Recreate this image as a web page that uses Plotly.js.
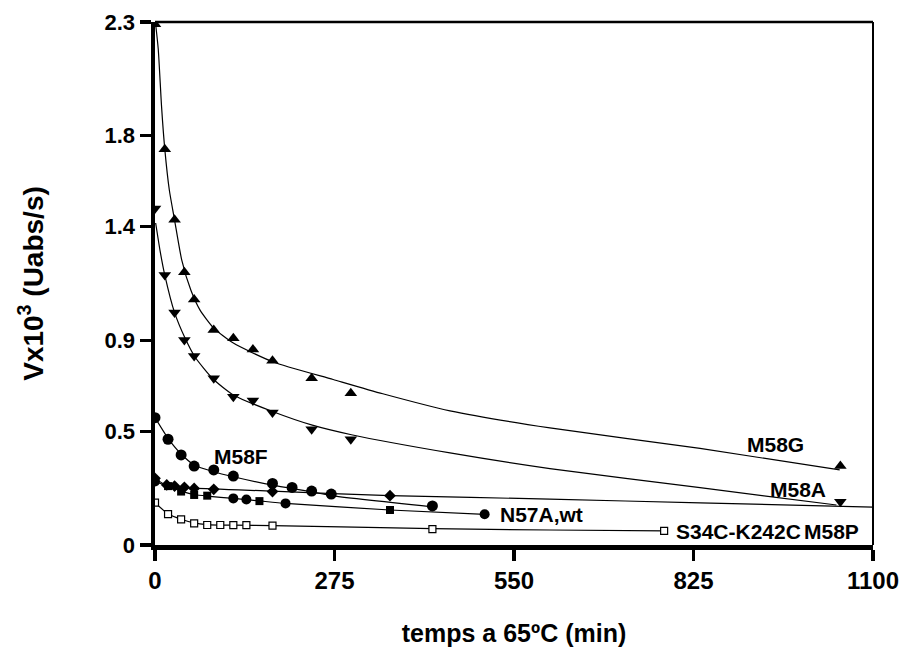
<!DOCTYPE html>
<html>
<head>
<meta charset="utf-8">
<script src="https://cdn.plot.ly/plotly-3.0.1.min.js"></script>
<style>html,body{margin:0;padding:0;background:#fff;}#chart{width:901px;height:652px;}</style>
</head>
<body>
<div id="chart"></div>
<script>
// ---- measured points (time in min, V x 10^3 in Uabs/s) ----
const m58gT = [0, 15, 30, 45, 60, 90, 120, 150, 180, 240, 300, 1050];
const m58gV = [2.29, 1.74, 1.43, 1.20, 1.08, 0.945, 0.909, 0.86, 0.81, 0.733, 0.667, 0.347];

const m58aT = [0, 15, 30, 45, 60, 90, 120, 150, 180, 240, 300, 1050];
const m58aV = [1.48, 1.187, 1.022, 0.901, 0.831, 0.733, 0.652, 0.635, 0.583, 0.509, 0.465, 0.19];

const m58fT = [0, 20, 40, 60, 90, 120, 180, 210, 240, 270, 425];
const m58fV = [0.56, 0.465, 0.396, 0.347, 0.33, 0.303, 0.271, 0.253, 0.237, 0.224, 0.172];

const wtT = [0, 18, 30, 45, 60, 90, 180, 360];
const wtV = [0.293, 0.264, 0.259, 0.254, 0.249, 0.245, 0.235, 0.217];

const n57aSqT = [20, 40, 60, 80, 160, 360];
const n57aSqV = [0.259, 0.235, 0.220, 0.217, 0.193, 0.154];
const n57aCiT = [0, 120, 140, 200, 505];
const n57aCiV = [0.279, 0.205, 0.200, 0.183, 0.135];

const s34cT = [0, 20, 40, 60, 80, 100, 120, 140, 180, 425, 780];
const s34cV = [0.186, 0.136, 0.113, 0.095, 0.088, 0.088, 0.087, 0.087, 0.085, 0.070, 0.062];

// ---- fitted curves ----
const m58gFitT = [1, 5, 10, 15, 22, 30, 41, 55, 69, 90, 120, 181, 273, 349, 452, 605, 835, 1049];
const m58gFitV = [2.29, 2.18, 1.93, 1.741, 1.56, 1.429, 1.253, 1.12, 1.033, 0.954, 0.888, 0.805, 0.728, 0.665, 0.59, 0.515, 0.425, 0.33];

const m58aFitT = [1, 8, 15, 30, 46, 61, 89, 120, 181, 241, 301, 452, 605, 835, 1044];
const m58aFitV = [1.416, 1.29, 1.187, 1.022, 0.91, 0.828, 0.73, 0.66, 0.586, 0.527, 0.485, 0.405, 0.336, 0.252, 0.176];

const m58fFitT = [0, 20, 40, 60, 90, 120, 180, 240, 270, 425];
const m58fFitV = [0.56, 0.469, 0.40, 0.352, 0.322, 0.30, 0.263, 0.234, 0.217, 0.168];

const wtFitT = [0, 18, 60, 180, 360, 605, 835, 1100];
const wtFitV = [0.293, 0.262, 0.25, 0.237, 0.217, 0.202, 0.185, 0.167];

const n57aFitT = [0, 20, 40, 60, 80, 120, 160, 200, 360, 505];
const n57aFitV = [0.279, 0.259, 0.237, 0.222, 0.215, 0.205, 0.194, 0.183, 0.154, 0.135];

const s34cFitT = [0, 20, 40, 60, 80, 120, 180, 425, 605, 780];
const s34cFitV = [0.186, 0.137, 0.113, 0.097, 0.09, 0.087, 0.085, 0.072, 0.066, 0.062];

// ---- axis ticks ----
const xTicks = [0, 275, 550, 825, 1100];
const xTickText = ['0', '275', '550', '825', '1100'];
const yTicks = [0, 0.5, 0.9, 1.4, 1.8, 2.3];
const yTickText = ['0', '0.5', '0.9', '1.4', '1.8', '2.3'];

// ---- labels ----
const labelText = ['M58G', 'M58A', 'M58F', 'N57A,wt', 'S34C-K242C', 'M58P'];
const labelT = [951, 985, 131, 525, 795, 991];
const labelV = [0.44, 0.242, 0.388, 0.132, 0.058, 0.058];
const labelAnchor = ['center', 'center', 'center', 'left', 'left', 'left'];

const FONT = 'Liberation Sans, Arial, sans-serif';
const fitLine = {color: '#000', width: 1.2, shape: 'spline', smoothing: 0.6};

function fit(t, v) {
  return {x: t, y: v, type: 'scatter', mode: 'lines', line: fitLine, hoverinfo: 'skip', showlegend: false};
}
function pts(t, v, symbol, size, name, open) {
  return {x: t, y: v, type: 'scatter', mode: 'markers', name: name, showlegend: false,
    marker: {symbol: symbol, size: size, color: open ? '#fff' : '#000', line: {color: '#000', width: open ? 1.2 : 0}}};
}

const data = [
  fit(m58gFitT, m58gFitV), fit(m58aFitT, m58aFitV), fit(m58fFitT, m58fFitV),
  fit(wtFitT, wtFitV), fit(n57aFitT, n57aFitV), fit(s34cFitT, s34cFitV),
  pts(m58gT, m58gV, 'triangle-up', 11, 'M58G'),
  pts(m58aT, m58aV, 'triangle-down', 11, 'M58A'),
  pts(m58fT, m58fV, 'circle', 11, 'M58F'),
  pts(wtT, wtV, 'diamond', 9, 'wt'),
  pts(n57aSqT, n57aSqV, 'square', 8, 'N57A'),
  pts(n57aCiT, n57aCiV, 'circle', 10, 'N57A'),
  pts(s34cT, s34cV, 'square', 7, 'S34C-K242C', true)
];

const annotations = labelText.map((t, i) => ({
  x: labelT[i], y: labelV[i], xref: 'x', yref: 'y', text: t, showarrow: false,
  xanchor: labelAnchor[i], yanchor: 'middle',
  font: {family: FONT, size: 21, color: '#000', weight: 'bold'}
}));

const layout = {
  width: 901, height: 652,
  margin: {l: 155, r: 28, t: 22, b: 107},
  paper_bgcolor: '#fff', plot_bgcolor: '#fff',
  font: {family: FONT, color: '#000'},
  showlegend: false,
  xaxis: {
    range: [0, 1100], tickvals: xTicks, ticktext: xTickText,
    showgrid: false, zeroline: false, showline: true, linewidth: 4.5, linecolor: '#000',
    ticks: 'outside', ticklen: 11, tickwidth: 3.5, tickcolor: '#000',
    tickfont: {family: FONT, size: 24, color: '#000', weight: 'bold'},
    title: {text: 'temps a 65ºC (min)', standoff: 32, font: {family: FONT, size: 25, color: '#000', weight: 'bold'}}
  },
  yaxis: {
    range: [0, 2.3], tickvals: yTicks, ticktext: yTickText,
    showgrid: false, zeroline: false, showline: true, linewidth: 4.5, linecolor: '#000',
    ticks: 'outside', ticklen: 11, tickwidth: 3.5, tickcolor: '#000',
    tickfont: {family: FONT, size: 22, color: '#000', weight: 'bold'},
    title: {text: 'Vx10<sup>3</sup> (Uabs/s)', standoff: 54, font: {family: FONT, size: 28, color: '#000', weight: 'bold'}}
  },
  shapes: [
    {type: 'line', xref: 'paper', yref: 'paper', x0: 0, x1: 1, y0: 1, y1: 1, line: {color: '#000', width: 2.5}},
    {type: 'line', xref: 'paper', yref: 'paper', x0: 1, x1: 1, y0: 0, y1: 1, line: {color: '#000', width: 2}}
  ],
  annotations: annotations
};

Plotly.newPlot('chart', data, layout, {displayModeBar: false, staticPlot: true});
</script>
</body>
</html>
